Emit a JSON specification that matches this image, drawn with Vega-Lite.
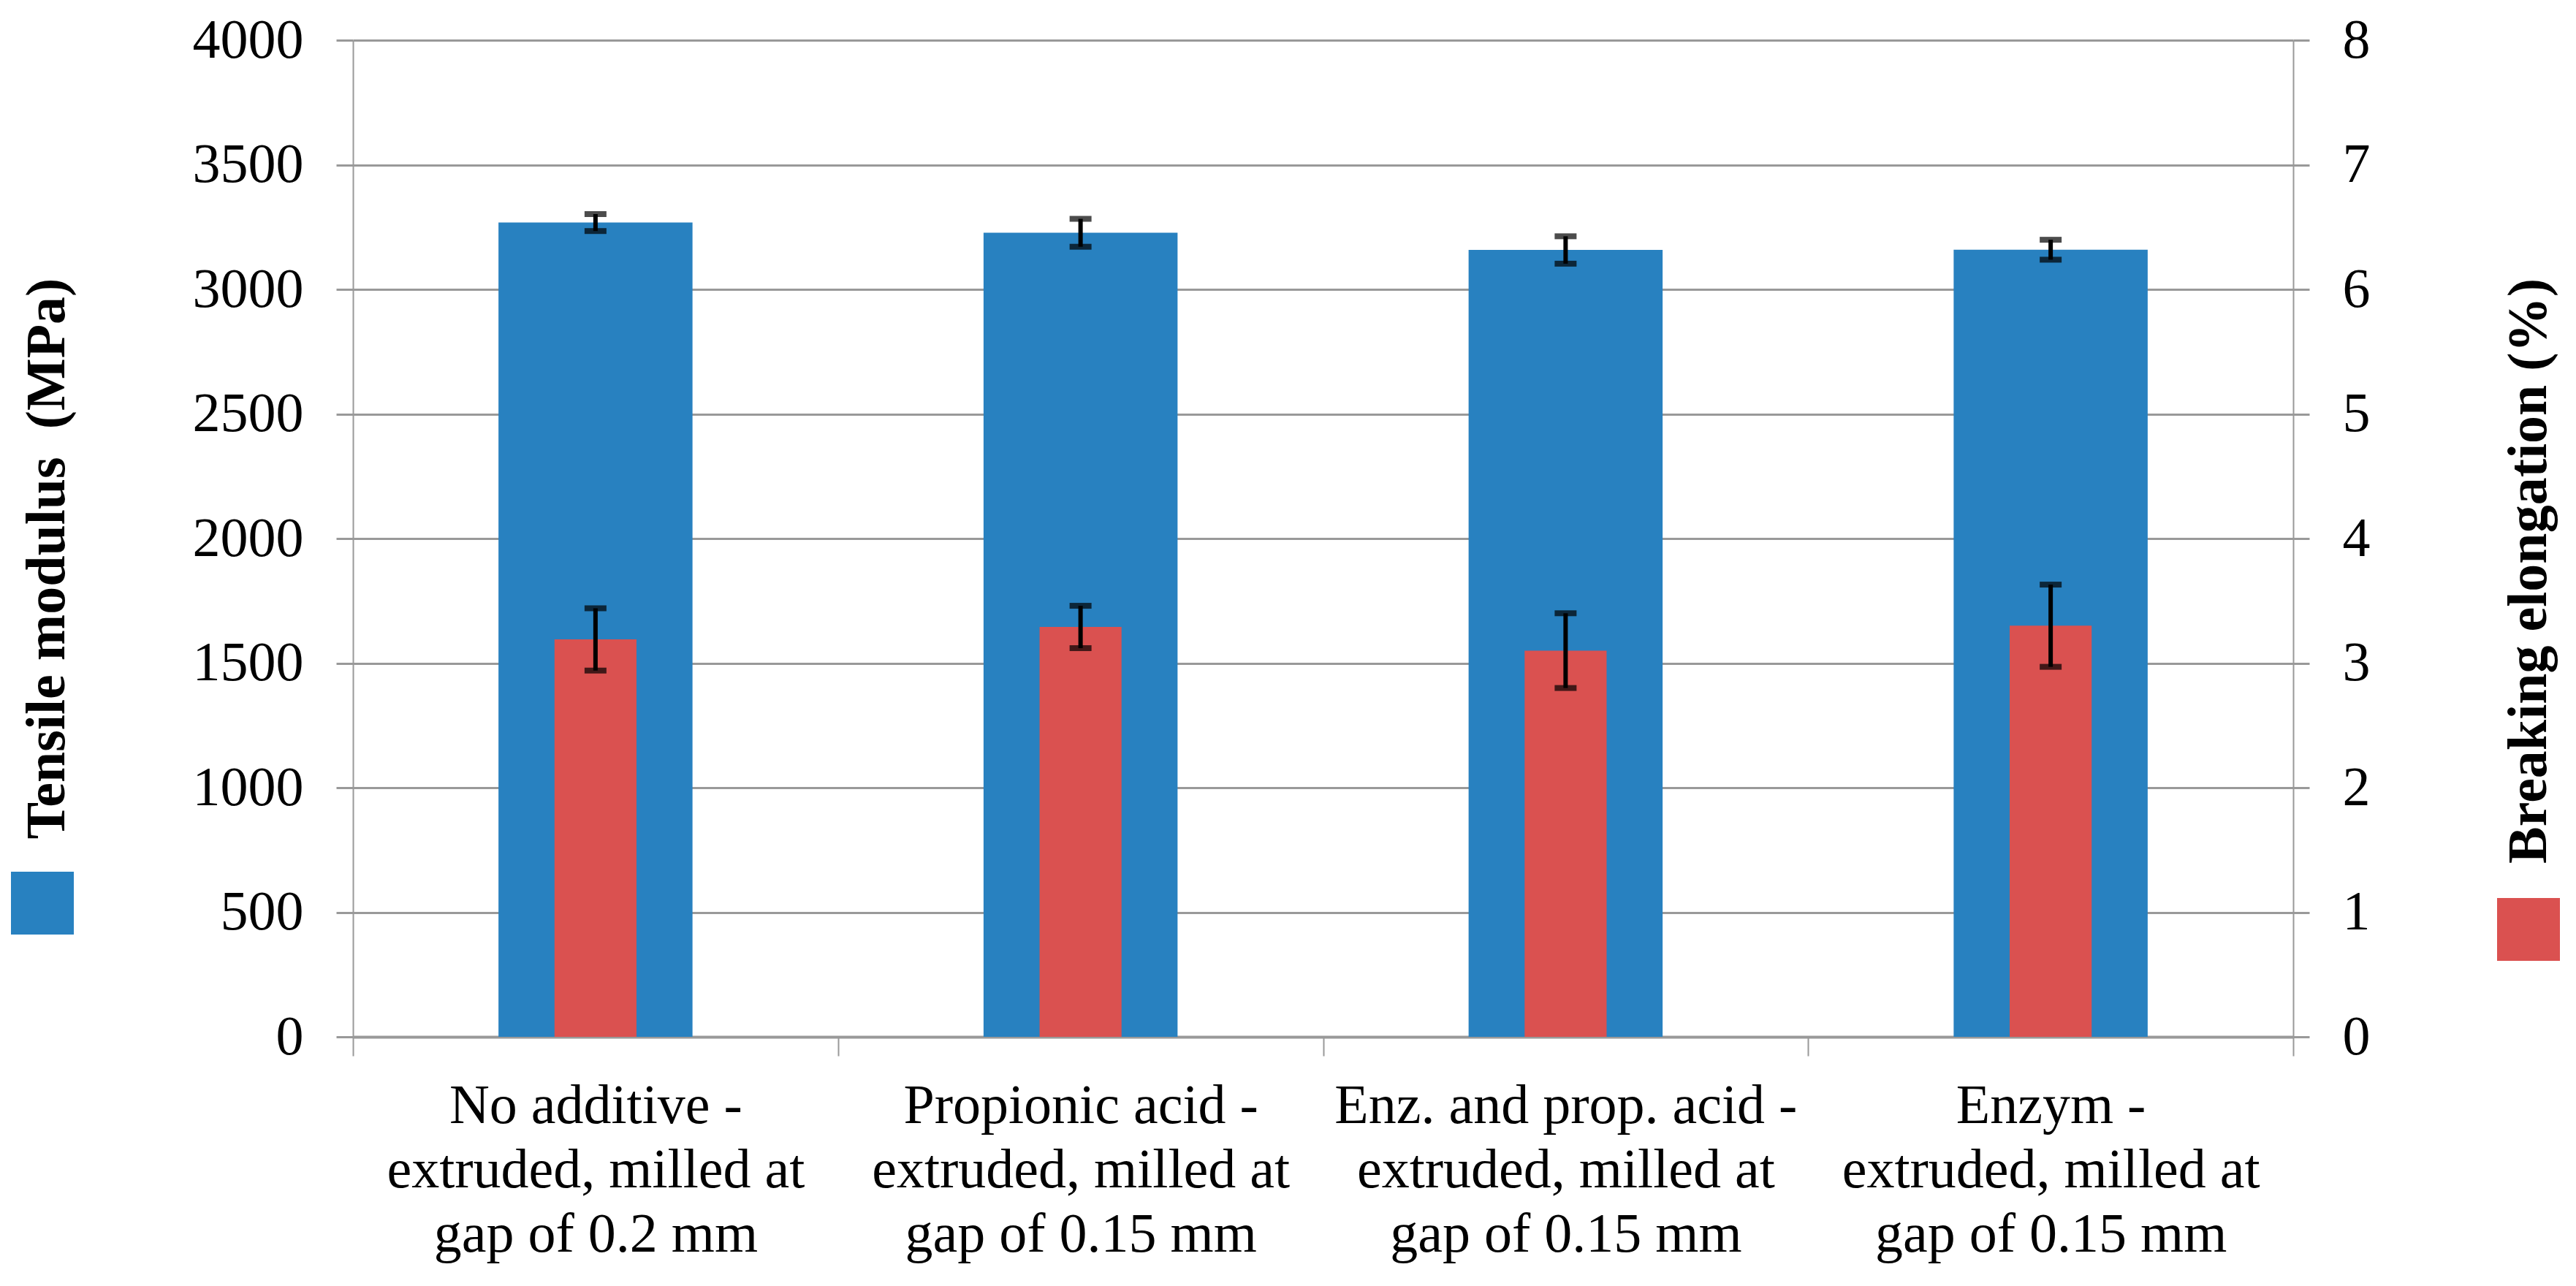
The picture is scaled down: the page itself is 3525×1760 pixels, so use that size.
{
  "$schema": "https://vega.github.io/schema/vega-lite/v6.json",
  "width": 2655,
  "height": 1364,
  "autosize": "none",
  "padding": {"left": 483, "top": 55, "right": 387, "bottom": 341},
  "background": "white",
  "config": {
    "view": {"stroke": null},
    "font": "Liberation Serif"
  },
  "data": {
    "values": [
      {"cat": "No additive -|extruded, milled at|gap of 0.2 mm", "tm": 3268, "tm_err": 34, "be": 3.19, "be_err": 0.25},
      {"cat": "Propionic acid -|extruded, milled at|gap of 0.15 mm", "tm": 3227, "tm_err": 56, "be": 3.29, "be_err": 0.17},
      {"cat": "Enz. and prop. acid -|extruded, milled at|gap of 0.15 mm", "tm": 3158, "tm_err": 55, "be": 3.10, "be_err": 0.30},
      {"cat": "Enzym -|extruded, milled at|gap of 0.15 mm", "tm": 3159, "tm_err": 40, "be": 3.30, "be_err": 0.33}
    ]
  },
  "layer": [
    {
      "layer": [
        {
          "mark": {"type": "bar", "width": {"band": 0.4}},
          "encoding": {
            "x": {
              "field": "cat", "type": "nominal", "sort": null, "title": null,
              "scale": {"paddingInner": 0, "paddingOuter": 0},
              "axis": {
                "orient": "bottom", "labelAngle": 0, "labelExpr": "split(datum.label, '|')",
                "labelFont": "Liberation Serif", "labelFontSize": 76, "labelLineHeight": 88,
                "labelPadding": 31, "labelLimit": 1000, "labelColor": "#000", "labelOverlap": false,
                "tickBand": "extent", "ticks": true, "tickSize": 26, "tickWidth": 2, "tickColor": "#999",
                "domainColor": "#999", "domainWidth": 4, "grid": false
              }
            },
            "y": {
              "field": "tm", "type": "quantitative", "title": "Tensile modulus \u00a0(MPa)",
              "scale": {"domain": [0, 4000], "nice": false},
              "axis": {
                "orient": "left", "format": "d",
                "values": [0, 500, 1000, 1500, 2000, 2500, 3000, 3500, 4000],
                "labelFont": "Liberation Serif", "labelFontSize": 76, "labelColor": "#000", "labelPadding": 45,
                "tickSize": 23, "tickColor": "#999", "tickWidth": 3,
                "domainColor": "#999", "domainWidth": 2,
                "grid": true, "gridColor": "#999", "gridWidth": 3,
                "titleFont": "Liberation Serif", "titleFontWeight": "bold", "titleFontSize": 76, "titleColor": "#000",
                "titleAngle": -90, "titleX": -419, "titleY": 709, "titleAlign": "center", "titleBaseline": "middle"
              }
            },
            "color": {
              "datum": "Tensile modulus",
              "scale": {"range": ["#2881C0"]},
              "legend": {
                "orient": "none", "legendX": -468, "legendY": 1138, "title": null, "padding": 0,
                "symbolType": "square", "symbolSize": 7396, "symbolStrokeWidth": 0, "symbolOpacity": 1,
                "labelExpr": "''"
              }
            }
          }
        },
        {
          "mark": {"type": "errorbar", "ticks": {"thickness": 8}, "size": 30, "thickness": 6, "color": "#000"},
          "encoding": {
            "x": {"field": "cat", "type": "nominal", "sort": null, "title": null},
            "y": {"field": "tm", "type": "quantitative", "title": "Tensile modulus \u00a0(MPa)"},
            "yError": {"field": "tm_err"}
          }
        }
      ]
    },
    {
      "layer": [
        {
          "mark": {"type": "bar", "width": {"band": 0.169}},
          "encoding": {
            "x": {"field": "cat", "type": "nominal", "sort": null, "title": null},
            "y": {
              "field": "be", "type": "quantitative", "title": "Breaking elongation (%)",
              "scale": {"domain": [0, 8], "nice": false},
              "axis": {
                "orient": "right", "format": "d",
                "values": [0, 1, 2, 3, 4, 5, 6, 7, 8],
                "labelFont": "Liberation Serif", "labelFontSize": 76, "labelColor": "#000", "labelPadding": 45,
                "tickSize": 22, "tickColor": "#999", "tickWidth": 3,
                "domainColor": "#999", "domainWidth": 2, "grid": false,
                "titleFont": "Liberation Serif", "titleFontWeight": "bold", "titleFontSize": 76, "titleColor": "#000",
                "titleAngle": -90, "titleX": 322, "titleY": 726, "titleAlign": "center", "titleBaseline": "middle"
              }
            },
            "color": {
              "datum": "Breaking elongation",
              "scale": {"range": ["#DA5150"]},
              "legend": {
                "orient": "none", "legendX": 2934, "legendY": 1174, "title": null, "padding": 0,
                "symbolType": "square", "symbolSize": 7396, "symbolStrokeWidth": 0, "symbolOpacity": 1,
                "labelExpr": "''"
              }
            }
          }
        },
        {
          "mark": {"type": "errorbar", "ticks": {"thickness": 8}, "size": 30, "thickness": 6, "color": "#000"},
          "encoding": {
            "x": {"field": "cat", "type": "nominal", "sort": null, "title": null},
            "y": {"field": "be", "type": "quantitative", "title": "Breaking elongation (%)"},
            "yError": {"field": "be_err"}
          }
        }
      ]
    }
  ],
  "resolve": {"scale": {"y": "independent", "color": "independent"}}
}
